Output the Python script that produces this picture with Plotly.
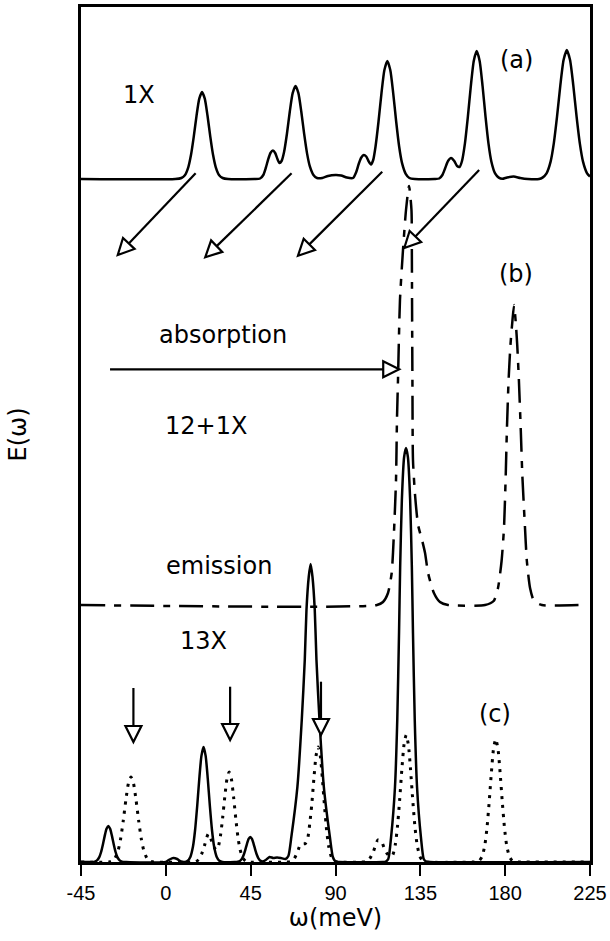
import math
import plotly.graph_objects as go

# ---------------- data ----------------
x_tickvals = [-45, 0, 45, 90, 135, 180, 225]
x_ticktext = ["-45", "0", "45", "90", "135", "180", "225"]

# (a) 1X spectrum (solid), points (omega, E)
spec_a = [(-45, 683), (5, 683), (8.25, 684), (10.1, 686.8), (11.9, 694.7), (13.36, 707.2), (14.82, 725.4),
          (16.28, 746.2), (17.74, 763.3), (19.2, 770), (20.66, 763.3), (22.12, 746.2), (23.58, 725.4),
          (25.04, 707.2), (26.5, 694.7), (28.3, 686.8), (30.15, 684), (33, 683), (47, 683), (50, 683.5),
          (51.7, 687), (53, 694), (54.2, 702), (55.5, 709), (56.8, 711.5), (58, 709), (59.2, 703),
          (60.3, 699), (61.4, 701), (62.72, 710), (64.24, 728.3), (65.76, 750.5), (67.28, 768.8),
          (68.8, 776), (70.32, 768.8), (71.84, 750.5), (73.36, 728.3), (74.88, 708.9), (76.4, 695.6),
          (78.3, 687.1), (80.2, 684), (83, 684), (86, 686), (90, 687), (93, 686.5), (96, 684.5),
          (99.3, 684), (101, 690), (102.3, 698), (103.7, 704.5), (105, 707), (106.3, 705.5),
          (107.5, 701), (108.8, 697.5), (110, 702), (111.26, 715.8), (112.82, 740.5), (114.38, 768.7),
          (115.94, 791.9), (117.5, 801), (119.06, 791.9), (120.62, 768.7), (122.18, 740.5),
          (123.74, 715.8), (125.3, 698.9), (127.25, 688.2), (129.2, 684), (132, 683), (142.5, 683),
          (145, 683.5), (146.7, 687), (148.2, 694), (149.7, 701), (151.3, 704), (153, 701),
          (154.5, 696), (155.8, 695), (157.1, 701), (158.66, 718.6), (160.22, 745.3), (161.78, 775.9),
          (163.34, 801.1), (164.9, 811), (166.46, 801.1), (168.02, 775.9), (169.58, 745.3),
          (171.14, 718.6), (172.7, 700.3), (174.65, 688.6), (176.6, 684.4), (178.5, 683.2),
          (181, 684.5), (184.5, 685.5), (188, 684), (192, 683), (198, 683), (199.8, 684.4),
          (201.95, 688.7), (204.1, 700.4), (205.82, 718.9), (207.54, 745.8), (209.26, 776.7),
          (210.98, 802), (212.7, 812), (214.42, 802), (216.14, 776.7), (217.86, 745.8),
          (219.58, 718.9), (221.3, 700.4), (223.45, 688.7), (225, 685.5)]

# (b) 12+1X spectrum (dashed)
spec_b = [(-45, 257), (112.0, 257), (115.2, 260), (117.85, 269), (119.8, 289), (121.0, 329), (122.1, 382),
          (122.6, 442), (123.15, 482), (124.2, 562), (125.8, 612), (127.4, 652), (129.0, 676),
          (130.3, 652), (130.5, 612), (130.6, 562), (130.8, 482), (131.1, 402), (132.2, 367),
          (133.8, 337), (135.9, 322), (137.5, 309), (139.1, 289), (142.2, 269), (145.4, 260),
          (149.7, 257), (169.3, 257), (173.9, 261), (176.2, 274), (178.1, 301), (179.4, 335),
          (180.3, 387), (180.9, 431), (181.8, 481), (182.8, 517), (183.8, 540), (184.7, 557),
          (185.6, 540), (186.4, 517), (187.3, 481), (188.3, 431), (189.1, 387), (190.5, 335),
          (191.5, 301), (193.2, 274), (195.3, 261), (199.5, 257), (221, 257)]

# (c) 13X spectrum, emission (solid)
spec_c = [(-45, 0), (-39.5, 0), (-37.7, 0.4), (-36.5, 1.6), (-35.3, 4.9), (-34.34, 10), (-33.38, 17.5),
          (-32.42, 26.1), (-31.46, 33.2), (-30.5, 36), (-29.54, 33.2), (-28.58, 26.1), (-27.62, 17.5),
          (-26.66, 10), (-25.7, 4.9), (-24.5, 1.6), (-23.3, 0.4), (-21, 0), (0, 0), (2, 2.5), (4, 4),
          (6, 3), (8, 0.5), (10, 0), (11.6, 1.3), (13, 5.1), (14.4, 15.5), (15.52, 32), (16.64, 56),
          (17.76, 83.5), (18.88, 106.1), (20, 115), (21.12, 106.1), (22.24, 83.5), (23.36, 56),
          (24.48, 32), (25.6, 15.5), (27, 5.1), (28.4, 1.3), (30, 0), (36.5, 0), (38.2, 0.3),
          (39.3, 1.1), (40.4, 3.4), (41.28, 7), (42.16, 12.2), (43.04, 18.2), (43.92, 23.1),
          (44.8, 25), (45.68, 23.1), (46.56, 18.2), (47.44, 12.2), (48.32, 7), (49.2, 3.4),
          (50.3, 1.1), (51.4, 0.5), (53, 2), (55, 5), (57, 4), (59, 4.5), (61, 4), (63.5, 3),
          (65, 6), (66.6, 25.3), (69.8, 75.3), (72.1, 142), (73.7, 202), (74.6, 252), (75.8, 285),
          (76.8, 298), (77.8, 285), (79, 252), (79.9, 202), (81.5, 142), (83.8, 75.3), (87, 25.3),
          (88.6, 5), (90, 0.5), (92, 0), (115, 0), (116.7, 0.5), (118, 3), (119.5, 25),
          (121.55, 75), (122.76, 142), (123.7, 229), (124.3, 295), (125.2, 362), (126.4, 405),
          (127.4, 414), (128.4, 405), (129.6, 362), (130.5, 295), (131.1, 229), (132.04, 142),
          (133.25, 75), (135.3, 25), (136.8, 3), (138.1, 0.5), (140, 0), (225, 0)]

# (c) absorption (dotted)
spec_d = [(-45, 0), (-30, 0), (-28.7, 0.9), (-27, 3.7), (-25.3, 11.5), (-23.94, 23.6), (-22.58, 41.4),
          (-21.22, 61.7), (-19.86, 78.5), (-18.5, 85), (-17.14, 78.5), (-15.78, 61.7), (-14.42, 41.4),
          (-13.06, 23.6), (-11.7, 11.5), (-10, 3.7), (-8.3, 0.9), (-6.5, 0), (14.5, 0), (16, 0.5),
          (17.5, 2.5), (19, 8), (20.5, 16.5), (22.5, 28), (24, 22.5), (25, 18), (26, 13.4), (27, 12.3),
          (27.8, 15), (28.96, 26), (30.12, 44), (31.28, 65.3), (32.44, 83.1), (33.6, 90),
          (34.76, 83.1), (35.92, 65.3), (37.08, 43.8), (38.24, 25), (39.4, 12.2), (40.85, 4),
          (42.3, 1), (44, 0), (64, 0), (66, 0.5), (68, 3), (69.8, 10), (71.3, 17), (72.7, 18),
          (74, 18.5), (75.2, 23), (76.32, 38), (77.44, 58), (78.56, 84), (79.68, 106.2), (80.8, 115),
          (81.92, 106.2), (83.04, 83.5), (84.16, 56), (85.28, 32), (86.4, 15.5), (87.8, 5.1),
          (89.2, 1.3), (91, 0), (104, 0), (106, 0.5), (108, 3), (110, 10), (112.5, 22), (114.5, 20),
          (116, 13), (117.5, 8), (119, 6), (120.25, 6.5), (121.7, 17.1), (122.86, 35.3),
          (124.02, 61.8), (125.18, 92.2), (126.34, 117.2), (127.5, 127), (128.66, 117.2),
          (129.82, 92.2), (130.98, 61.8), (132.14, 35.3), (133.3, 17.1), (134.75, 5.6), (136.2, 1.4),
          (138, 0), (163, 0), (165, 0.3), (166.3, 1.4), (167.75, 5.4), (169.2, 16.6), (170.36, 34.2),
          (171.52, 59.9), (172.68, 89.3), (173.84, 113.5), (175, 123), (176.16, 113.5),
          (177.32, 89.3), (178.48, 59.9), (179.64, 34.2), (180.8, 16.6), (182.25, 5.4), (183.7, 1.4),
          (185, 0.3), (187, 0), (225, 0)]

# arrows: (start omega, start E, tip omega, tip E)
arrows = [(15.8, 688.7, -25.5, 607), (66.7, 688.7, 20.9, 604.7), (114.8, 690.3, 70.1, 606.3),
          (166.2, 692, 126.5, 614),
          (-29.6, 492.7, 123.8, 492.7),
          (-17.2, 174, -17.2, 120), (34.1, 175.3, 34.1, 122), (82.3, 180.3, 82.3, 127)]

# text labels: (text, omega, E)
labels = [("1X", -14.2, 767), ("(a)", 186, 802), ("(b)", 185.5, 588), ("absorption", 30.3, 527),
          ("12+1X", 21.3, 436), ("emission", 28.2, 296.5), ("13X", 20, 221), ("(c)", 174.6, 148)]

# ---------------- figure ----------------
W, H = 610, 941
ML, MR, MT, MB = 81, 20, 7, 79
X_RANGE = [-45, 225]
Y_RANGE = [0, 855]
FONT = "DejaVu Sans, Liberation Sans, sans-serif"
TICKFONT = "Liberation Sans, Arial, sans-serif"

fig = go.Figure()


def add_curve(points, dash, width):
    fig.add_trace(go.Scatter(
        x=[p[0] for p in points], y=[p[1] for p in points], mode="lines",
        line=dict(color="black", width=width, dash=dash, shape="spline", smoothing=0.6),
        showlegend=False, hoverinfo="skip"))


add_curve(spec_a, "solid", 2.5)
add_curve(spec_b, "24px,9px,7px,9px", 2.5)
add_curve(spec_d, "3px,6px", 3)
add_curve(spec_c, "solid", 2.5)

# arrow geometry (convert to pixel space for the open triangular head)
kx = (W - ML - MR) / (X_RANGE[1] - X_RANGE[0])
ky = (H - MT - MB) / (Y_RANGE[1] - Y_RANGE[0])
HEAD_L, HEAD_W = 16, 8
shapes = []
for (x0, y0, x1, y1) in arrows:
    dxp = (x1 - x0) * kx
    dyp = (y1 - y0) * ky
    n = math.hypot(dxp, dyp)
    ux, uy = dxp / n, dyp / n
    bx, by = -HEAD_L * ux, -HEAD_L * uy
    px, py = -uy, ux
    base = (x1 + bx / kx, y1 + by / ky)
    c1 = (x1 + (bx + HEAD_W * px) / kx, y1 + (by + HEAD_W * py) / ky)
    c2 = (x1 + (bx - HEAD_W * px) / kx, y1 + (by - HEAD_W * py) / ky)
    shapes.append(dict(type="line", xref="x", yref="y", x0=x0, y0=y0, x1=base[0], y1=base[1],
                       line=dict(color="black", width=2.2)))
    shapes.append(dict(type="path", xref="x", yref="y",
                       path=f"M {x1} {y1} L {c1[0]} {c1[1]} L {c2[0]} {c2[1]} Z",
                       fillcolor="white", line=dict(color="black", width=2.2)))

annotations = [dict(text=t, x=x, y=y, xref="x", yref="y", showarrow=False,
                    font=dict(family=FONT, size=24, color="black"))
               for (t, x, y) in labels]

fig.update_layout(
    width=W, height=H,
    margin=dict(l=ML, r=MR, t=MT, b=MB, pad=0),
    paper_bgcolor="white", plot_bgcolor="white",
    shapes=shapes, annotations=annotations,
    font=dict(family=FONT, color="black"),
    xaxis=dict(range=X_RANGE, tickvals=x_tickvals, ticktext=x_ticktext,
               showgrid=False, zeroline=False, showline=True, linecolor="black", linewidth=2.8,
               mirror=True, ticks="outside", ticklen=11, tickwidth=1.5, tickcolor="black",
               tickfont=dict(family=TICKFONT, size=20, color="black"),
               title=dict(text="ω(meV)", font=dict(family=FONT, size=24, color="black"), standoff=6),
               automargin=False),
    yaxis=dict(range=Y_RANGE, showticklabels=False, ticks="", showgrid=False, zeroline=False,
               showline=True, linecolor="black", linewidth=2.8, mirror=True,
               title=dict(text="E(ω)", font=dict(family=FONT, size=24, color="black"), standoff=45),
               automargin=False),
)

fig.write_html("out.html")
